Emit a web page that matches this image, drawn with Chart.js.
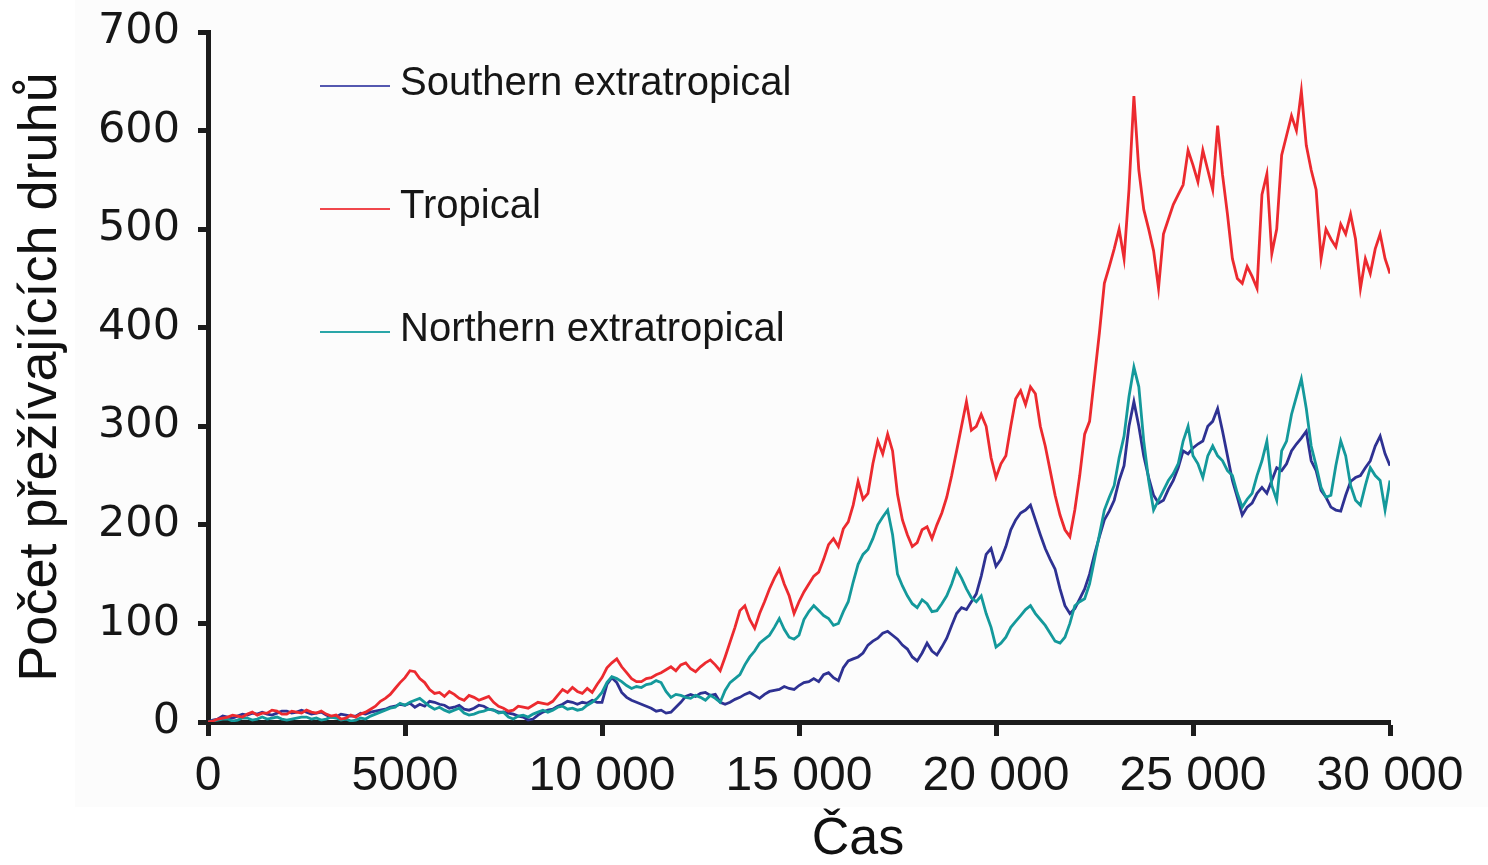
<!DOCTYPE html>
<html>
<head>
<meta charset="utf-8">
<script src="https://cdn.jsdelivr.net/npm/chart.js@4.4.1/dist/chart.umd.min.js"></script>
<style>
  html, body { margin: 0; padding: 0; background: #fff; }
</style>
</head>
<body>
<canvas id="speciesChart" width="1488" height="865"></canvas>
<script>
// values, one every 125 time units (0 .. 30 000)
const timeStep = 125;

const southern = [
  0, 2, 3, 6, 5, 4, 6, 8, 7, 9, 8, 10, 8, 7, 9, 11, 11, 9, 10, 12,
  10, 8, 9, 10, 7, 5, 5, 8, 7, 6, 6, 9, 8, 10, 11, 12, 13, 15, 16, 18,
  17, 19, 15, 18, 16, 21, 20, 18, 17, 14, 15, 17, 13, 12, 14, 17, 16, 13, 12, 10,
  10, 9, 8, 6, 5, 2, 3, 7, 10, 12, 13, 16, 18, 21, 20, 18, 20, 19, 22, 20,
  20, 38, 45, 40, 30, 25, 22, 20, 18, 16, 14, 11, 12, 9, 10, 15, 20, 26, 28, 26,
  29, 30, 27, 28, 20, 18, 20, 23, 25, 28, 30, 27, 24, 28, 31, 32, 33, 36, 34, 33,
  37, 40, 41, 44, 41, 48, 50, 45, 42, 55, 62, 64, 66, 70, 78, 82, 85, 90, 92, 88,
  84, 78, 74, 66, 62, 70, 80, 72, 68, 76, 85, 98, 110, 116, 114, 122, 130, 148, 170, 176,
  158, 165, 178, 195, 205, 212, 215, 220, 205, 190, 176, 165, 155, 135, 118, 110, 115, 125, 135, 150,
  170, 188, 205, 214, 225, 245, 260, 300, 325, 300, 270, 248, 230, 222, 225, 236, 245, 258, 275, 272,
  278, 282, 285, 300, 305, 318, 295, 270, 245, 228, 210, 218, 222, 232, 238, 232, 245, 258, 255, 262,
  275, 282, 288, 295, 265, 255, 235, 228, 218, 215, 214, 230, 244, 248, 250, 258, 265, 280, 290, 272,
  260
];

const tropical = [
  0, 1, 3, 4, 5, 7, 6, 5, 8, 10, 7, 9, 9, 12, 11, 8, 8, 11, 10, 9,
  12, 10, 9, 11, 8, 6, 7, 3, 4, 7, 5, 8, 10, 13, 16, 21, 24, 28, 34, 40,
  45, 52, 51, 44, 40, 33, 29, 30, 26, 31, 28, 24, 22, 27, 25, 22, 24, 26, 20, 16,
  14, 11, 12, 16, 15, 14, 17, 20, 19, 18, 21, 27, 33, 30, 35, 31, 29, 34, 30, 38,
  45, 55, 60, 64, 56, 50, 44, 41, 41, 44, 45, 48, 50, 53, 56, 52, 58, 60, 54, 51,
  56, 60, 63, 58, 52, 66, 81, 96, 113, 118, 104, 95, 110, 122, 135, 146, 155, 140, 128, 110,
  122, 132, 140, 148, 152, 165, 180, 186, 178, 196, 203, 220, 244, 226, 232, 262, 285, 272, 292, 275,
  231, 205, 190, 178, 182, 195, 198, 186, 200, 212, 228, 250, 275, 300, 325, 296, 300, 312, 300, 268,
  248, 262, 270, 300, 328, 336, 322, 340, 333, 300, 280, 255, 230, 210, 195, 188, 215, 250, 292, 305,
  350, 395, 445, 462, 480, 500, 470, 540, 635, 560, 520, 500, 478, 440, 495, 510, 525, 535, 545, 580,
  565, 548, 580, 560, 540, 605, 555, 515, 470, 450, 445, 462, 452, 440, 535, 556, 475, 500, 575, 595,
  615, 600, 640, 585, 560, 540, 470, 500, 490, 482, 505, 495, 515, 490, 440, 470, 455, 480, 495, 470,
  455
];

const northern = [
  0, 1, 2, 3, 3, 1, 2, 4, 4, 2, 3, 5, 3, 4, 5, 3, 2, 3, 4, 5,
  5, 3, 4, 2, 3, 5, 4, 2, 3, 1, 2, 4, 3, 6, 8, 10, 12, 14, 15, 19,
  17, 20, 22, 24, 20, 16, 13, 15, 12, 10, 12, 14, 9, 7, 8, 10, 11, 13, 12, 9,
  10, 5, 3, 6, 7, 5, 8, 10, 12, 10, 12, 15, 16, 13, 14, 12, 13, 17, 20, 24,
  30, 40, 46, 44, 41, 37, 34, 36, 35, 38, 39, 42, 40, 31, 25, 28, 27, 25, 24, 27,
  25, 22, 27, 24, 20, 32, 40, 44, 48, 58, 66, 72, 80, 84, 88, 96, 105, 94, 86, 84,
  88, 104, 112, 118, 113, 108, 105, 98, 100, 112, 122, 142, 160, 170, 175, 186, 200, 208, 215, 190,
  150, 138, 128, 120, 116, 124, 120, 112, 113, 120, 128, 140, 155, 146, 135, 126, 122, 128, 110, 96,
  76, 80, 86, 96, 102, 108, 114, 118, 110, 104, 98, 90, 82, 80, 86, 100, 118, 122, 125, 140,
  165, 190, 215, 228, 240, 268, 290, 330, 360, 340, 285, 245, 215, 225, 235, 245, 252, 262, 285, 300,
  270, 262, 248, 270, 280, 270, 265, 255, 250, 232, 218, 226, 232, 250, 265, 285, 240, 225, 275, 285,
  312, 330, 348, 318, 280, 260, 238, 228, 230, 260, 285, 270, 240, 225, 220, 240, 258, 250, 245, 215,
  245
];

const seriesNames = ["Southern extratropical", "Tropical", "Northern extratropical"];
const xTitle = "Čas";
const yTitle = "Počet přežívajících druhů";
const xTickValues = [0, 5000, 10000, 15000, 20000, 25000, 30000];
const xTickLabels = ["0", "5000", "10 000", "15 000", "20 000", "25 000", "30 000"];
const yTickValues = [0, 100, 200, 300, 400, 500, 600, 700];

const toPoints = (arr) => arr.map((v, i) => ({ x: i * timeStep, y: v }));

const inkColor = "#1c1c1c";
const sansFont = '"Liberation Sans", Arial, sans-serif';

// light panel behind the figure, like the scanned original
const paperPlugin = {
  id: "paper",
  beforeDraw(chart) {
    const { ctx } = chart;
    ctx.save();
    ctx.fillStyle = "#fff";
    ctx.fillRect(0, 0, chart.width, chart.height);
    ctx.fillStyle = "#fcfcfc";
    ctx.fillRect(75, 0, chart.width - 75, 807);
    ctx.restore();
  },
};

// legend sits inside the plot, stacked with big gaps; x title sits right of centre
const insideLegend = {
  id: "insideLegend",
  afterDraw(chart) {
    const { ctx } = chart;
    ctx.save();
    ctx.font = "40px " + sansFont;
    ctx.textBaseline = "middle";
    chart.data.datasets.forEach((ds, i) => {
      const y = 84 + i * 123;
      ctx.strokeStyle = ds.legendColor;
      ctx.lineWidth = 2;
      ctx.beginPath();
      ctx.moveTo(320, y + 2);
      ctx.lineTo(390, y + 2);
      ctx.stroke();
      ctx.fillStyle = "#161616";
      ctx.fillText(ds.label, 400, y);
    });
    ctx.font = "52px " + sansFont;
    ctx.textAlign = "center";
    ctx.fillStyle = "#111";
    ctx.fillText(xTitle, 858, 840);
    ctx.restore();
  },
};

const ctx = document.getElementById("speciesChart").getContext("2d");
const speciesChart = new Chart(ctx, {
  type: "line",
  data: {
    datasets: [
      {
        label: seriesNames[0],
        data: toPoints(southern),
        borderColor: "#2e3192",
        legendColor: "#5458b0",
        order: 2,
      },
      {
        label: seriesNames[1],
        data: toPoints(tropical),
        borderColor: "#ec2a2f",
        legendColor: "#f0474c",
        order: 0,
      },
      {
        label: seriesNames[2],
        data: toPoints(northern),
        borderColor: "#14999b",
        legendColor: "#2aa6a8",
        order: 1,
      },
    ],
  },
  options: {
    responsive: false,
    animation: false,
    devicePixelRatio: 1,
    elements: {
      line: { borderWidth: 2.8, tension: 0 },
      point: { radius: 0 },
    },
    layout: { padding: { top: 32, right: 98, left: 0, bottom: 0 } },
    plugins: {
      legend: { display: false },
      tooltip: { enabled: false },
    },
    scales: {
      x: {
        type: "linear",
        min: 0,
        max: 30000,
        afterBuildTicks: (axis) => {
          axis.ticks = xTickValues.map((v) => ({ value: v }));
        },
        afterFit: (axis) => {
          axis.height = 143;
        },
        ticks: {
          autoSkip: false,
          maxRotation: 0,
          padding: 12,
          color: "#161616",
          font: { family: sansFont, size: 48 },
          callback: (v) => xTickLabels[xTickValues.indexOf(v)],
        },
        grid: {
          drawOnChartArea: false,
          tickLength: 14,
          tickWidth: 5,
          tickColor: inkColor,
        },
        border: { display: true, width: 5, color: inkColor },
      },
      y: {
        min: 0,
        max: 700,
        afterBuildTicks: (axis) => {
          axis.ticks = yTickValues.map((v) => ({ value: v }));
        },
        afterFit: (axis) => {
          axis.width = 208;
          axis.paddingTop = 0;
          axis.paddingBottom = 0;
        },
        ticks: {
          padding: 18,
          color: "#161616",
          font: { family: '"DejaVu Sans", sans-serif', size: 43 },
        },
        grid: {
          drawOnChartArea: false,
          tickLength: 10,
          tickWidth: 5,
          tickColor: inkColor,
        },
        border: { display: true, width: 5, color: inkColor },
        title: {
          display: true,
          text: yTitle,
          color: "#111",
          font: { family: sansFont, size: 54, lineHeight: 1.2 },
          padding: { top: 9, bottom: 0 },
        },
      },
    },
  },
  plugins: [paperPlugin, insideLegend],
});
</script>
</body>
</html>
